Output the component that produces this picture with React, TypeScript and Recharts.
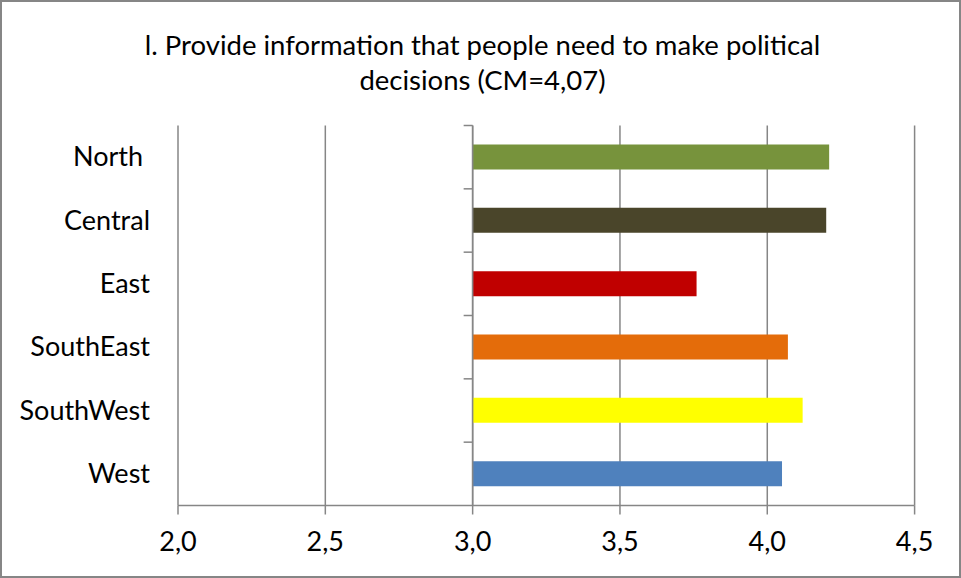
import React from 'react';
import { BarChart, Bar, XAxis, YAxis, CartesianGrid, ReferenceLine, Cell } from 'recharts';

const regions = ['North ', 'Central', 'East', 'SouthEast', 'SouthWest', 'West'];
const scores = [4.21, 4.2, 3.76, 4.07, 4.12, 4.05];
const colors = ['#77933C', '#4A452A', '#C00000', '#E46C0A', '#FFFF00', '#4F81BD'];
const xTicks = [2, 2.5, 3, 3.5, 4, 4.5];
const baseline = 3;

const W = 961;
const H = 578;
const FONT = 'Lato, "Open Sans", sans-serif';
const GRID = '#868686';

// plot box
const PLOT_LEFT = 178;
const PLOT_RIGHT = 914.6;
const PLOT_TOP = 125.5;
const PLOT_BOTTOM = 505.5;
const AXIS_X = PLOT_LEFT + ((baseline - 2) / 2.5) * (PLOT_RIGHT - PLOT_LEFT);
const BAND = (PLOT_BOTTOM - PLOT_TOP) / regions.length;

const data = regions.map((r, i) => ({ region: r, range: [baseline, scores[i]] }));

const fmt = (v: number) => v.toFixed(1).replace('.', ',');

function RegionTick(props: any) {
  const { y, payload } = props;
  return (
    <g>
      <text x={150} y={y} dy={9} textAnchor="end" fontSize={27} fontFamily={FONT} fill="#000" style={{ whiteSpace: 'pre' }}>
        {payload.value}
      </text>
      <line x1={AXIS_X - 9} x2={AXIS_X} y1={y - BAND / 2} y2={y - BAND / 2} stroke={GRID} strokeWidth={1.5} />
    </g>
  );
}

export default function App() {
  return (
    <div style={{ position: 'absolute', left: 0, top: 0, width: W, height: H, boxSizing: 'border-box', border: `2px solid ${GRID}`, background: '#fff' }}>
      <div style={{ position: 'absolute', left: 0, top: 25, width: W, textAlign: 'center', fontFamily: FONT, fontSize: 27.5, lineHeight: '35px', color: '#000' }}>
        l. Provide information that people need to make political
        <br />
        decisions (CM=4,07)
      </div>
      <div style={{ position: 'absolute', left: -2, top: -2 }}>
        <BarChart
          width={W}
          height={H}
          data={data}
          layout="vertical"
          barSize={25}
          margin={{ top: PLOT_TOP, right: W - PLOT_RIGHT, bottom: 0, left: 0 }}
        >
          <CartesianGrid vertical horizontal={false} stroke={GRID} strokeWidth={1.5} />
          <XAxis
            type="number"
            domain={[2, 4.5]}
            ticks={xTicks}
            tickFormatter={fmt}
            stroke={GRID}
            strokeWidth={1.5}
            tickSize={9}
            tickMargin={17}
            height={H - PLOT_BOTTOM}
            tick={{ fill: '#000', fontSize: 27, fontFamily: FONT }}
            interval={0}
          />
          <YAxis
            type="category"
            dataKey="region"
            width={PLOT_LEFT}
            axisLine={false}
            tickLine={false}
            tick={<RegionTick />}
            interval={0}
          />
          <ReferenceLine x={baseline} stroke={GRID} strokeWidth={1.5} />
          <Bar dataKey="range" isAnimationActive={false}>
            {data.map((d, i) => (
              <Cell key={d.region} fill={colors[i]} />
            ))}
          </Bar>
        </BarChart>
      </div>
    </div>
  );
}
